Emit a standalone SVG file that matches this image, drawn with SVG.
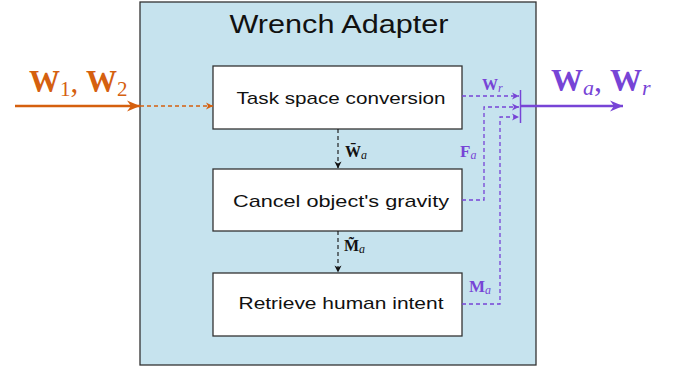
<svg xmlns="http://www.w3.org/2000/svg" width="681" height="369" viewBox="0 0 681 369">
  <style>
    .box { fill: #ffffff; stroke: #333333; stroke-width: 1.3; }
    .lbl { font-family: "Liberation Sans", "DejaVu Sans", sans-serif; font-size: 17px; fill: #111111; text-anchor: middle; }
    .math { font-family: "Liberation Serif", "DejaVu Serif", serif; font-weight: bold; }
    .sub { font-family: "Liberation Serif", "DejaVu Serif", serif; font-style: italic; font-weight: normal; }
    .num { font-family: "Liberation Serif", "DejaVu Serif", serif; font-style: normal; font-weight: normal; }
    .dk { stroke: #111111; stroke-width: 1.1; stroke-dasharray: 4 3; fill: none; }
    .or { stroke: #d5600f; fill: none; }
    .pu { stroke: #7744d6; fill: none; }
    .pud { stroke: #7744d6; stroke-width: 1.3; stroke-dasharray: 4 3; fill: none; }
  </style>
  <defs>
    <marker id="ahK" viewBox="-9 -5 10 10" markerWidth="10" markerHeight="10" refX="0" refY="0" orient="auto" markerUnits="userSpaceOnUse">
      <path d="M0,0 L-7,-3.5 L-5,0 L-7,3.5 Z" fill="#111111"/>
    </marker>
    <marker id="ahO" viewBox="-9 -5 10 10" markerWidth="10" markerHeight="10" refX="0" refY="0" orient="auto" markerUnits="userSpaceOnUse">
      <path d="M0,0 L-7,-3.5 L-5,0 L-7,3.5 Z" fill="#d5600f"/>
    </marker>
    <marker id="ahOL" viewBox="-15 -7 16 14" markerWidth="16" markerHeight="14" refX="0" refY="0" orient="auto" markerUnits="userSpaceOnUse">
      <path d="M0,0 L-13,-5.5 L-9,0 L-13,5.5 Z" fill="#d5600f"/>
    </marker>
    <marker id="ahP" viewBox="-9 -5 10 10" markerWidth="10" markerHeight="10" refX="0" refY="0" orient="auto" markerUnits="userSpaceOnUse">
      <path d="M0,0 L-7,-3.5 L-5,0 L-7,3.5 Z" fill="#7744d6"/>
    </marker>
    <marker id="ahPL" viewBox="-15 -7 16 14" markerWidth="16" markerHeight="14" refX="0" refY="0" orient="auto" markerUnits="userSpaceOnUse">
      <path d="M0,0 L-13,-5.5 L-9,0 L-13,5.5 Z" fill="#7744d6"/>
    </marker>
  </defs>

  <!-- container -->
  <g id="wrench-adapter">
    <rect x="140" y="2" width="396" height="363" fill="#c6e3ee" stroke="#333333" stroke-width="1.3"/>
    <text x="339" y="33" font-family="Liberation Sans, DejaVu Sans, sans-serif" font-size="25" fill="#111111" text-anchor="middle" textLength="219" lengthAdjust="spacingAndGlyphs">Wrench Adapter</text>
  </g>

  <g id="task-space">
    <rect class="box" x="213" y="66" width="249" height="63"/>
    <text class="lbl" x="341" y="104" textLength="209" lengthAdjust="spacingAndGlyphs">Task space conversion</text>
  </g>
  <g id="cancel-gravity">
    <rect class="box" x="213" y="169" width="249" height="62"/>
    <text class="lbl" x="341" y="207" textLength="216" lengthAdjust="spacingAndGlyphs">Cancel object's gravity</text>
  </g>
  <g id="human-intent">
    <rect class="box" x="213" y="273" width="249" height="63"/>
    <text class="lbl" x="341" y="309" textLength="205" lengthAdjust="spacingAndGlyphs">Retrieve human intent</text>
  </g>

  <!-- connectors -->
  <g id="connectors">
    <line class="or" x1="15" y1="106" x2="140" y2="106" stroke-width="2.6" marker-end="url(#ahOL)"/>
    <line class="or" x1="140" y1="106" x2="213" y2="106" stroke-width="1.3" stroke-dasharray="4 3" marker-end="url(#ahO)"/>

    <line class="dk" x1="338" y1="129" x2="338" y2="168.5" marker-end="url(#ahK)"/>
    <line class="dk" x1="338" y1="231" x2="338" y2="272.5" marker-end="url(#ahK)"/>

    <line class="pud" x1="462" y1="96" x2="519" y2="96" marker-end="url(#ahP)"/>
    <polyline class="pud" points="462,200 484,200 484,107 519,107" marker-end="url(#ahP)"/>
    <polyline class="pud" points="462,304 500,304 500,117 519,117" marker-end="url(#ahP)"/>
    <line class="pu" x1="520.5" y1="90" x2="520.5" y2="123" stroke-width="1.5"/>
    <line class="pu" x1="520.5" y1="106" x2="623" y2="106" stroke-width="2.6" marker-end="url(#ahPL)"/>
  </g>

  <!-- signal labels -->
  <g id="labels">
    <text x="29" y="92" fill="#d5600f" font-size="31"><tspan class="math">W</tspan><tspan class="num" font-size="21" dy="4">1</tspan><tspan class="num" dy="-4">, </tspan><tspan class="math">W</tspan><tspan class="num" font-size="21" dy="4">2</tspan></text>
    <text x="551" y="91" fill="#7744d6" font-size="32"><tspan class="math">W</tspan><tspan class="sub" font-size="22" dy="4">a</tspan><tspan class="num" dy="-4">, </tspan><tspan class="math">W</tspan><tspan class="sub" font-size="22" dy="4">r</tspan></text>

    <text x="345" y="157" fill="#111111" font-size="16"><tspan class="math">W̄</tspan><tspan class="sub" font-size="12" dy="2">a</tspan></text>
    <text x="344" y="251" fill="#111111" font-size="16"><tspan class="math">M̃</tspan><tspan class="sub" font-size="12" dy="2">a</tspan></text>

    <text x="482" y="90" fill="#7744d6" font-size="16"><tspan class="math">W</tspan><tspan class="sub" font-size="12" dy="2">r</tspan></text>
    <text x="460" y="157" fill="#7744d6" font-size="17"><tspan class="math">F</tspan><tspan class="sub" font-size="12" dy="2">a</tspan></text>
    <text x="469" y="292" fill="#7744d6" font-size="17"><tspan class="math">M</tspan><tspan class="sub" font-size="12" dy="2">a</tspan></text>
  </g>
</svg>
